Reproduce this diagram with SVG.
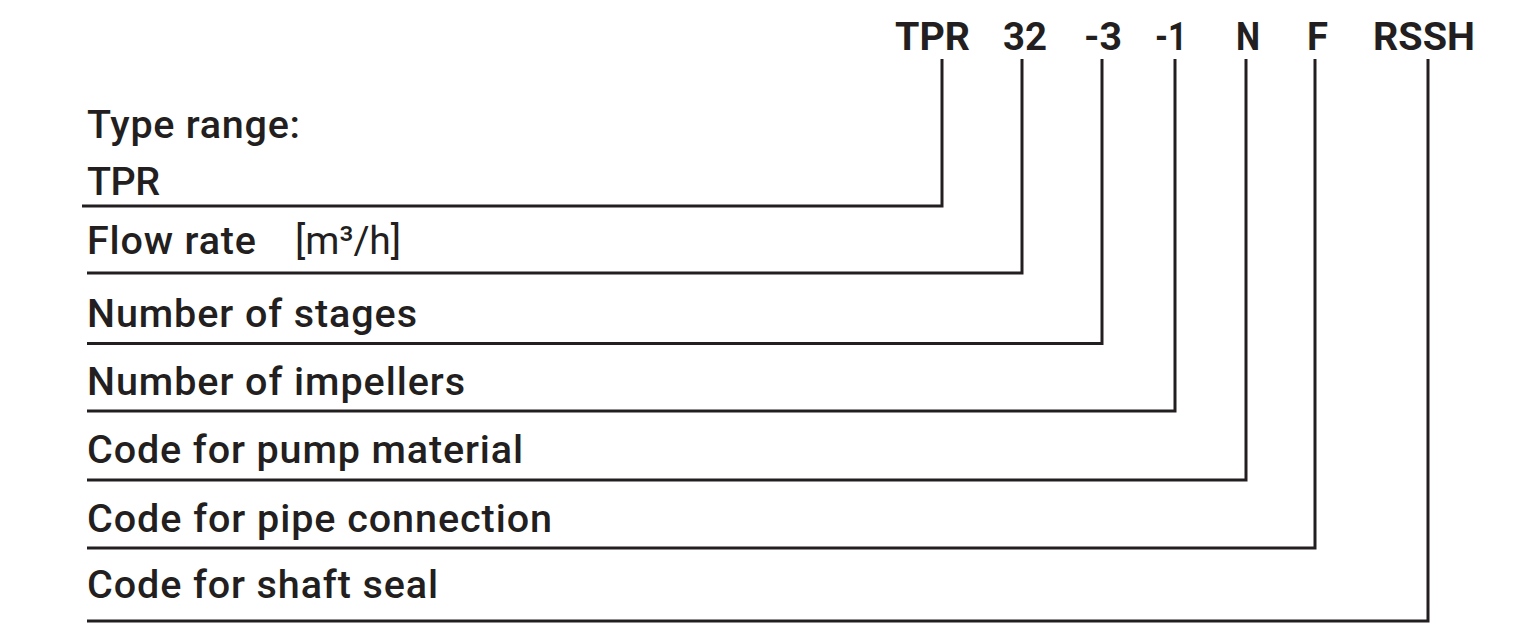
<svg xmlns="http://www.w3.org/2000/svg" width="1536" height="638" viewBox="0 0 1536 638">
<style>
.code{font-family:Roboto,"Liberation Sans",sans-serif;font-weight:700;font-size:38px;fill:#231f20}
.lbl{font-family:Roboto,"Liberation Sans",sans-serif;font-weight:500;font-size:39.5px;fill:#231f20}
.unit{font-family:Roboto,"Liberation Sans",sans-serif;font-weight:400;font-size:39px;fill:#231f20}
.ln{fill:none;stroke:#231f20;stroke-width:3;stroke-linejoin:miter}
</style>
<rect width="1536" height="638" fill="#ffffff"/>
<g id="codes">
<text class="code" x="895" y="50" textLength="75" lengthAdjust="spacingAndGlyphs">TPR</text>
<text class="code" x="1003" y="50" textLength="44" lengthAdjust="spacingAndGlyphs">32</text>
<text class="code" x="1084" y="50" textLength="38" lengthAdjust="spacingAndGlyphs">-3</text>
<text class="code" x="1155" y="50" textLength="32" lengthAdjust="spacingAndGlyphs">-1</text>
<text class="code" x="1236" y="50" textLength="24" lengthAdjust="spacingAndGlyphs">N</text>
<text class="code" x="1307" y="50" textLength="21" lengthAdjust="spacingAndGlyphs">F</text>
<text class="code" x="1373" y="50" textLength="102" lengthAdjust="spacingAndGlyphs">RSSH</text>
</g>
<g id="node-type-range">
<text class="lbl" x="87" y="138" textLength="213" lengthAdjust="spacing">Type range:</text>
<text class="lbl" x="87" y="195" textLength="73" lengthAdjust="spacing">TPR</text>
</g>
<g id="node-flow-rate">
<text class="lbl" x="87" y="254" textLength="169" lengthAdjust="spacing">Flow rate</text>
<text class="unit" x="295" y="254" textLength="106" lengthAdjust="spacing">[m³/h]</text>
</g>
<g id="node-stages">
<text class="lbl" x="87" y="327" textLength="330" lengthAdjust="spacing">Number of stages</text>
</g>
<g id="node-impellers">
<text class="lbl" x="87" y="395" textLength="378" lengthAdjust="spacing">Number of impellers</text>
</g>
<g id="node-pump-material">
<text class="lbl" x="87" y="463" textLength="436" lengthAdjust="spacing">Code for pump material</text>
</g>
<g id="node-pipe-connection">
<text class="lbl" x="87" y="532" textLength="465" lengthAdjust="spacing">Code for pipe connection</text>
</g>
<g id="node-shaft-seal">
<text class="lbl" x="87" y="598" textLength="351" lengthAdjust="spacing">Code for shaft seal</text>
</g>
<g id="connectors">
<polyline class="ln" points="82,206 942,206 942,59"/>
<polyline class="ln" points="87,273 1022,273 1022,59"/>
<polyline class="ln" points="87,343.5 1102,343.5 1102,59"/>
<polyline class="ln" points="87,411 1175,411 1175,59"/>
<polyline class="ln" points="87,480 1246,480 1246,59"/>
<polyline class="ln" points="87,548 1315,548 1315,59"/>
<polyline class="ln" points="87,621 1428,621 1428,59"/>
</g>
</svg>
